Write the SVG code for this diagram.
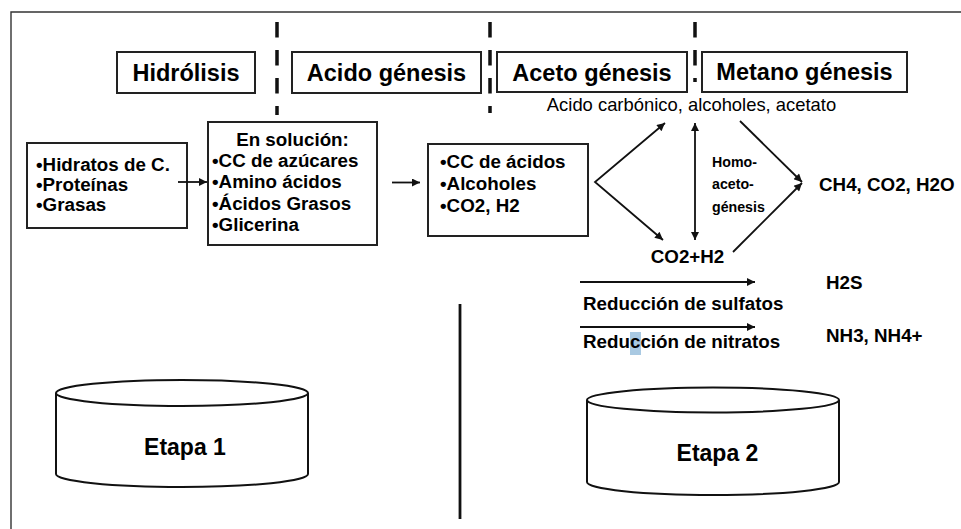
<svg xmlns="http://www.w3.org/2000/svg" width="961" height="529" viewBox="0 0 961 529">
<style>
.b{font-family:"Liberation Sans",Arial,sans-serif;font-weight:bold;font-size:18.8px;fill:#000}
.h{font-family:"Liberation Sans",Arial,sans-serif;font-weight:bold;font-size:23.5px;fill:#000}
.r{font-family:"Liberation Sans",Arial,sans-serif;font-size:18.4px;fill:#000}
.s{font-family:"Liberation Sans",Arial,sans-serif;font-weight:bold;font-size:14.2px;fill:#000}
.box{fill:#fff;stroke:#222;stroke-width:2}
.dash{stroke:#111;stroke-width:3.5;stroke-dasharray:15.5 12.5;fill:none}
.ln{stroke:#111;stroke-width:1.8;fill:none}
.cyl{fill:#fff;stroke:#111;stroke-width:2}
</style>
<defs>
<marker id="ah" viewBox="0 0 10 10" refX="10" refY="5" markerWidth="9" markerHeight="8" markerUnits="userSpaceOnUse" orient="auto-start-reverse">
<path d="M0,0 L10,5 L0,10 z" fill="#111"/>
</marker>
</defs>
<rect width="961" height="529" fill="#fff"/>
<g id="frame">
<path d="M11,529 L11,12 L961,12" fill="none" stroke="#333" stroke-width="1.4"/>
</g>
<g id="separators">
<line class="dash" x1="277" y1="22" x2="277" y2="115"/>
<line class="dash" x1="490" y1="22" x2="490" y2="113"/>
<line class="dash" x1="695" y1="22" x2="695" y2="82"/>
<line x1="460" y1="304" x2="460" y2="519" stroke="#111" stroke-width="2.8"/>
</g>
<g id="hidrolisis">
<rect class="box" x="117" y="52" width="138" height="41"/>
<text class="h" x="186" y="81" text-anchor="middle">Hidrólisis</text>
</g>
<g id="acidogenesis">
<rect class="box" x="292" y="52" width="189" height="41"/>
<text class="h" x="386.5" y="81" text-anchor="middle">Acido génesis</text>
</g>
<g id="acetogenesis">
<rect class="box" x="497" y="52" width="190" height="40"/>
<text class="h" x="592" y="81" text-anchor="middle">Aceto génesis</text>
</g>
<g id="metanogenesis">
<rect class="box" x="702" y="52" width="205" height="40"/>
<text class="h" x="804.5" y="80" text-anchor="middle">Metano génesis</text>
</g>
<g id="intermedios">
<text class="r" x="691.5" y="111" text-anchor="middle">Acido carbónico, alcoholes, acetato</text>
</g>
<g id="sustratos">
<rect class="box" x="27" y="143" width="160" height="85"/>
<text class="b" x="36" y="171">•Hidratos de C.</text>
<text class="b" x="36" y="191">•Proteínas</text>
<text class="b" x="36" y="211">•Grasas</text>
</g>
<g id="solucion">
<rect class="box" x="208" y="122" width="169" height="123" stroke-width="2.4"/>
<text class="b" x="292.5" y="146" text-anchor="middle">En solución:</text>
<text class="b" x="212" y="167">•CC de azúcares</text>
<text class="b" x="212" y="188">•Amino ácidos</text>
<text class="b" x="212" y="210">•Ácidos Grasos</text>
<text class="b" x="212" y="231">•Glicerina</text>
</g>
<g id="acidos">
<rect class="box" x="428" y="144" width="160" height="92"/>
<text class="b" x="440" y="168">•CC de ácidos</text>
<text class="b" x="440" y="190">•Alcoholes</text>
<text class="b" x="440" y="212">•CO2, H2</text>
</g>
<g id="co2h2">
<text class="b" x="687.5" y="263" text-anchor="middle">CO2+H2</text>
</g>
<g id="homoacetogenesis">
<text class="s" x="712" y="167">Homo-</text>
<text class="s" x="712" y="189">aceto-</text>
<text class="s" x="712" y="212">génesis</text>
</g>
<g id="productos">
<text class="b" x="819" y="191">CH4, CO2, H2O</text>
</g>
<g id="h2s">
<text class="b" x="826" y="289">H2S</text>
</g>
<g id="nh3">
<text class="b" x="826" y="342">NH3, NH4+</text>
</g>
<g id="connectors">
<line class="ln" x1="178" y1="182" x2="207" y2="182" marker-end="url(#ah)"/>
<line class="ln" x1="392" y1="182.5" x2="420" y2="182.5" marker-end="url(#ah)"/>
<polyline class="ln" points="665,123 595,182 663,240" marker-start="url(#ah)" marker-end="url(#ah)"/>
<line class="ln" x1="695" y1="123" x2="695" y2="240" marker-start="url(#ah)" marker-end="url(#ah)"/>
<line class="ln" x1="740" y1="121" x2="802" y2="182" marker-end="url(#ah)"/>
<line class="ln" x1="733" y1="252" x2="802" y2="183" marker-end="url(#ah)"/>
<line class="ln" x1="580" y1="282" x2="755" y2="282" marker-end="url(#ah)"/>
<line class="ln" x1="580" y1="327" x2="755" y2="327" marker-end="url(#ah)"/>
</g>
<g id="reduccion-sulfatos">
<text class="b" x="583" y="310">Reducción de sulfatos</text>
</g>
<g id="reduccion-nitratos">
<rect x="630" y="332" width="11" height="23" fill="#a9c9e2"/>
<text class="b" x="583" y="348">Reducción de nitratos</text>
</g>
<g id="etapa1">
<path class="cyl" d="M56,393 L56,474 A126,13 0 0 0 308,474 L308,393"/>
<ellipse class="cyl" cx="182" cy="393" rx="126" ry="13"/>
<text class="h" x="185" y="455" text-anchor="middle" style="font-size:23px">Etapa 1</text>
</g>
<g id="etapa2">
<path class="cyl" d="M587,400 L587,482 A126,13 0 0 0 839,482 L839,400"/>
<ellipse class="cyl" cx="713" cy="400" rx="126" ry="12.5"/>
<text class="h" x="717.5" y="461" text-anchor="middle" style="font-size:23px">Etapa 2</text>
</g>
</svg>
